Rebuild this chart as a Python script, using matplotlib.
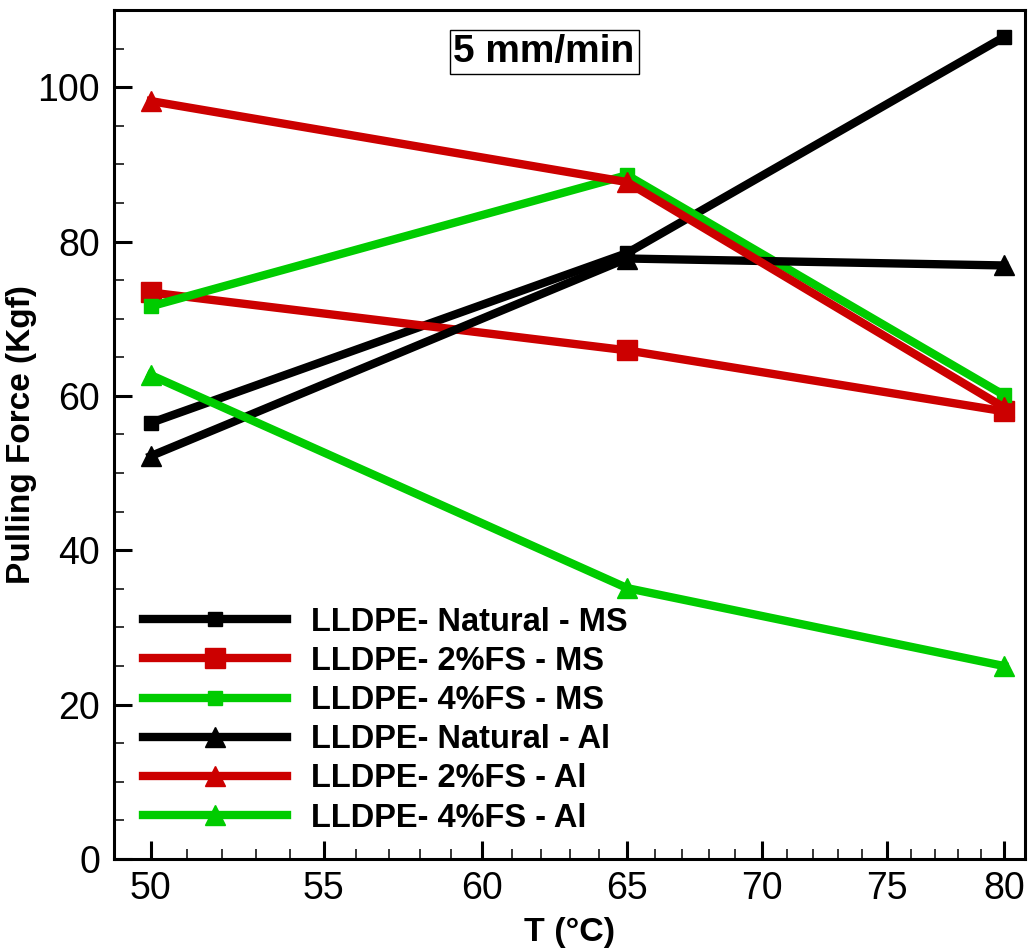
import matplotlib
matplotlib.use("Agg")
import matplotlib.pyplot as plt
from matplotlib.ticker import FixedLocator, FixedFormatter, NullFormatter

plt.rcParams['font.family'] = ['Liberation Sans', 'DejaVu Sans']

temps = [50, 65, 80]
natural_ms = [56.5, 78.5, 106.5]
fs2_ms = [73.4, 65.9, 58.0]
fs4_ms = [71.6, 88.6, 60.1]
natural_al = [52.2, 77.8, 76.9]
fs2_al = [98.2, 87.7, 58.5]
fs4_al = [62.7, 35.1, 25.0]

labels = ['LLDPE- Natural - MS', 'LLDPE- 2%FS - MS', 'LLDPE- 4%FS - MS',
          'LLDPE- Natural - Al', 'LLDPE- 2%FS - Al', 'LLDPE- 4%FS - Al']
x_ticks = [50, 55, 60, 65, 70, 75, 80]
x_minor = [t for t in range(51, 80) if t % 5 != 0]

black = '#000000'
red = '#cc0000'
green = '#00cc00'

fig = plt.figure(figsize=(10.31, 9.5), dpi=100)
ax = fig.add_axes([0.1106, 0.0958, 0.8836, 0.8937])

lw = 6
ax.plot(temps, natural_ms, color=black, lw=lw, marker='s', ms=10, label=labels[0])
ax.plot(temps, fs2_ms, color=red, lw=lw, marker='s', ms=14, label=labels[1])
ax.plot(temps, fs4_ms, color=green, lw=lw, marker='s', ms=10, label=labels[2])
ax.plot(temps, natural_al, color=black, lw=lw, marker='^', ms=14, label=labels[3])
ax.plot(temps, fs2_al, color=red, lw=lw, marker='^', ms=14, label=labels[4])
ax.plot(temps, fs4_al, color=green, lw=lw, marker='^', ms=14, label=labels[5])

# the temperature axis is logarithmic in the original
ax.set_xscale('log')
ax.set_xlim(49.0, 80.93)
ax.set_ylim(0, 110)
ax.xaxis.set_major_locator(FixedLocator(x_ticks))
ax.xaxis.set_major_formatter(FixedFormatter([str(t) for t in x_ticks]))
ax.xaxis.set_minor_locator(FixedLocator(x_minor))
ax.xaxis.set_minor_formatter(NullFormatter())
ax.set_yticks([0, 20, 40, 60, 80, 100])
ax.set_yticks(list(range(5, 110, 5)), minor=True)

ax.tick_params(which='major', direction='in', length=13, width=2.2,
               labelsize=27, top=False, right=False)
ax.tick_params(which='minor', direction='in', length=7, width=1.1,
               top=False, right=False)
ax.tick_params(axis='x', which='major', pad=9)
ax.tick_params(axis='y', which='major', pad=10)
for s in ax.spines.values():
    s.set_linewidth(2.2)

ax.set_xlabel('T (°C)', fontsize=24.5, fontweight='bold', labelpad=7)
ax.set_ylabel('Pulling Force (Kgf)', fontsize=24, fontweight='bold')
ax.yaxis.set_label_coords(-0.085, 0.5)

ax.text(0.472, 0.9505, '5 mm/min', transform=ax.transAxes, ha='center', va='center',
        fontsize=28, fontweight='bold',
        bbox=dict(boxstyle='square,pad=0.1', facecolor='white', edgecolor='black', lw=1))

ax.legend(loc='lower left', bbox_to_anchor=(0.032, 0.03), frameon=False,
          prop={'size': 23.5, 'weight': 'bold'}, handlelength=4.4, handletextpad=0.75,
          labelspacing=0.25, borderpad=0, borderaxespad=0)

fig.savefig('out.png', dpi=100)
